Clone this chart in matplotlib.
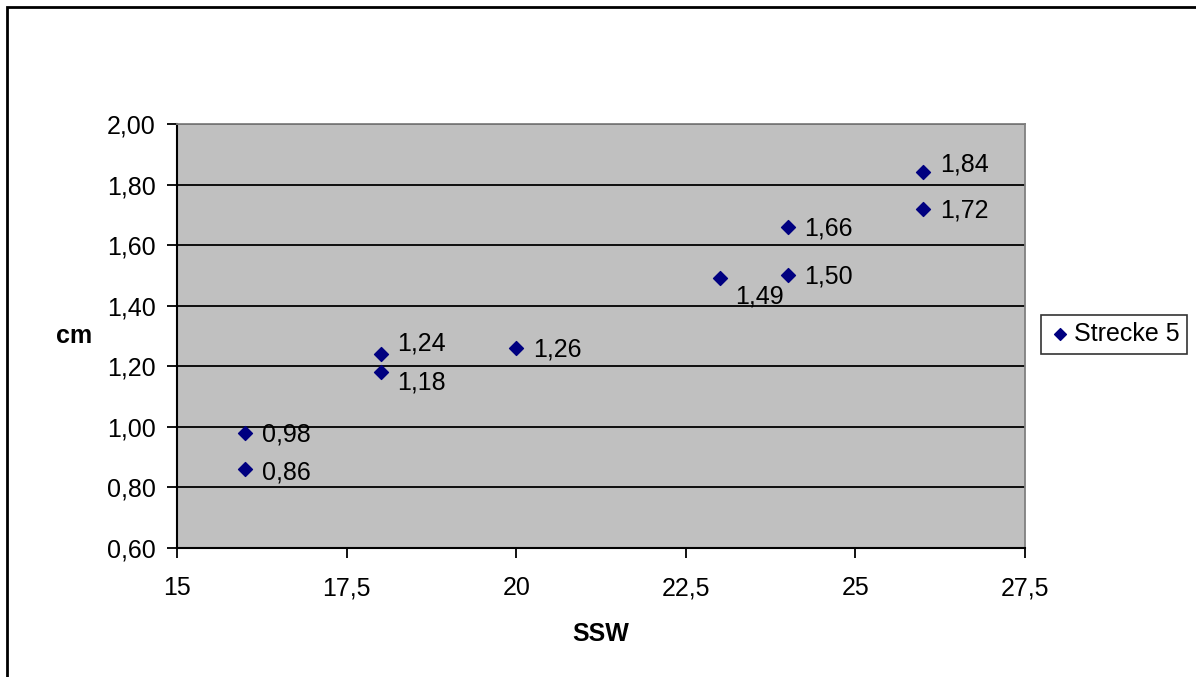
import matplotlib
matplotlib.use('Agg')
import matplotlib.pyplot as plt
from matplotlib.patches import Rectangle
from matplotlib.ticker import FuncFormatter, MultipleLocator

plt.rcParams['font.family'] = ['Liberation Sans', 'DejaVu Sans']

# Daten
ssw = [16, 16, 18, 18, 20, 23, 24, 24, 26, 26]
cm = [0.98, 0.86, 1.24, 1.18, 1.26, 1.49, 1.66, 1.50, 1.84, 1.72]
series_name = "Strecke 5"

# Versatz der Beschriftungen (Punkte)
label_offsets = [(12, -1), (12, -2), (12, 8), (12, -7), (12, -1),
                 (11, -13), (12, -1), (12, -1), (12, 6), (12, -1)]

FS = 18

fig = plt.figure(figsize=(11.96, 6.77), dpi=100)
ax = fig.add_axes([177/1196, 1 - 548/677, (1025-177)/1196, (548-124)/677])
ax.set_facecolor('#C0C0C0')

ax.set_xlim(15, 27.5)
ax.set_ylim(0.6, 2.0)
ax.xaxis.set_major_locator(MultipleLocator(2.5))
ax.yaxis.set_major_locator(MultipleLocator(0.2))
ax.xaxis.set_major_formatter(FuncFormatter(lambda v, p: f"{v:g}".replace('.', ',')))
ax.yaxis.set_major_formatter(FuncFormatter(lambda v, p: f"{v:.2f}".replace('.', ',')))
ax.grid(axis='y', color='black', linewidth=1.3)
ax.set_axisbelow(True)

ax.tick_params(labelsize=FS, direction='out', length=7.5, width=1.3, color='black', pad=8)
ax.tick_params(axis='x', pad=13)
for s in ['left', 'bottom']:
    ax.spines[s].set_color('black')
    ax.spines[s].set_linewidth(1.5)
for s in ['top', 'right']:
    ax.spines[s].set_color('#808080')
    ax.spines[s].set_linewidth(1.3)

ax.scatter(ssw, cm, marker='D', s=50, color='#000080', zorder=3, label=series_name)
for x, y, off in zip(ssw, cm, label_offsets):
    ax.annotate(f"{y:.2f}".replace('.', ','), (x, y), xytext=off, textcoords='offset points',
                fontsize=FS, va='center', ha='left')

ax.set_xlabel("SSW", fontsize=FS, fontweight='bold', va='center')
ax.xaxis.set_label_coords(0.5, -0.203)
ax.set_ylabel("cm", fontsize=FS, fontweight='bold', rotation=0, va='center', ha='center')
ax.yaxis.set_label_coords(-0.121, 0.5)

leg = fig.legend(loc='center', bbox_to_anchor=(1114/1196, 1 - 334/677), fontsize=FS,
                 frameon=True, fancybox=False, edgecolor='black', handletextpad=0.1,
                 handlelength=0.9, borderpad=0.3, borderaxespad=0, markerscale=0.85)
leg.get_frame().set_linewidth(1.2)

fig.patches.append(Rectangle((7/1196, -0.1), 1.2, 1 - 7/677 + 0.1, transform=fig.transFigure,
                             fill=False, edgecolor='black', linewidth=2))

fig.savefig('out.png', dpi=100)
